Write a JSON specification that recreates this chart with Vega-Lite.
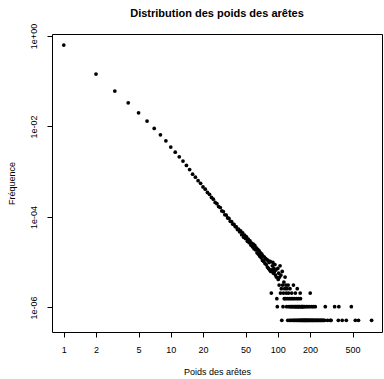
{
"$schema": "https://vega.github.io/schema/vega-lite/v6.json",
"width": 330, "height": 298,
"autosize": {"type": "none"},
"padding": {"left": 52, "top": 34, "right": 2, "bottom": 47},
"background": "white",
"title": {"text": "Distribution des poids des arêtes", "font": "Liberation Sans", "fontSize": 11, "fontWeight": "bold", "color": "black", "anchor": "middle", "frame": "group", "offset": 4},
"config": {"view": {"stroke": "black", "strokeWidth": 1}},
"data": {"values": [
{"w":1,"f":0.632},{"w":2,"f":0.144},{"w":3,"f":0.0607},{"w":4,"f":0.0334},{"w":5,"f":0.0201},{"w":6,"f":0.01316},{"w":7,"f":0.00907},{"w":8,"f":0.00655},{"w":9,"f":0.00483},{"w":10,"f":0.0035},{"w":11,"f":0.00271},{"w":12,"f":0.00214},{"w":13,"f":0.00172},{"w":14,"f":0.00138},{"w":15,"f":0.00112},{"w":16,"f":0.000885},{"w":17,"f":0.00076},
{"w":18,"f":6.35e-4},{"w":19,"f":5.55e-4},{"w":20,"f":4.62e-4},{"w":21,"f":4.12e-4},{"w":22,"f":3.49e-4},{"w":23,"f":3.16e-4},{"w":24,"f":2.70e-4},{"w":25,"f":2.47e-4},{"w":26,"f":2.10e-4},{"w":27,"f":1.97e-4},{"w":28,"f":1.70e-4},{"w":29,"f":1.62e-4},{"w":30,"f":1.36e-4},{"w":31,"f":1.32e-4},{"w":32,"f":1.12e-4},{"w":33,"f":1.10e-4},{"w":34,"f":9.5e-5},{"w":35,"f":9.3e-5},{"w":36,"f":8.0e-5},
{"w":37,"f":7.917e-5},{"w":38,"f":6.927e-5},{"w":39,"f":6.823e-5},{"w":40,"f":6.146e-5},{"w":41,"f":6.042e-5},{"w":42,"f":5.26e-5},{"w":43,"f":5.417e-5},{"w":44,"f":4.688e-5},{"w":45,"f":4.948e-5},{"w":46,"f":4.063e-5},{"w":47,"f":4.479e-5},{"w":48,"f":3.542e-5},{"w":49,"f":3.958e-5},{"w":50,"f":3.333e-5},{"w":51,"f":3.646e-5},{"w":52,"f":2.917e-5},{"w":53,"f":3.229e-5},{"w":54,"f":2.708e-5},{"w":55,"f":2.969e-5},{"w":56,"f":2.396e-5},{"w":57,"f":2.656e-5},{"w":58,"f":2.188e-5},{"w":59,"f":2.5e-5},
{"w":60,"f":1.979e-5},{"w":61,"f":2.344e-5},{"w":62,"f":1.875e-5},{"w":63,"f":2.083e-5},{"w":64,"f":1.615e-5},{"w":65,"f":1.927e-5},{"w":66,"f":1.51e-5},{"w":67,"f":1.771e-5},{"w":68,"f":1.354e-5},{"w":69,"f":1.615e-5},{"w":70,"f":1.25e-5},{"w":71,"f":1.51e-5},{"w":72,"f":1.094e-5},{"w":73,"f":1.354e-5},{"w":74,"f":1.042e-5},{"w":75,"f":1.302e-5},{"w":76,"f":9.375e-6},{"w":77,"f":1.198e-5},{"w":78,"f":8.854e-6},{"w":79,"f":1.146e-5},
{"w":80,"f":7.813e-6},{"w":81,"f":1.094e-5},{"w":82,"f":7.292e-6},{"w":83,"f":9.896e-6},{"w":84,"f":6.771e-6},{"w":85,"f":1.042e-5},{"w":86,"f":6.25e-6},{"w":87,"f":2.083e-6},{"w":88,"f":6.771e-6},{"w":89,"f":8.333e-6},{"w":90,"f":9.896e-6},{"w":91,"f":5.729e-6},{"w":92,"f":7.292e-6},{"w":93,"f":6.25e-6},{"w":94,"f":8.854e-6},{"w":95,"f":5.208e-6},{"w":96,"f":6.771e-6},{"w":97,"f":4.688e-6},{"w":98,"f":1.563e-6},{"w":99,"f":1.042e-6},
{"w":100,"f":7.292e-6},{"w":101,"f":4.167e-6},{"w":102,"f":5.729e-6},{"w":103,"f":3.125e-6},{"w":104,"f":4.688e-6},{"w":105,"f":8.333e-6},{"w":106,"f":2.083e-6},{"w":107,"f":5.208e-6},{"w":108,"f":2.604e-6},{"w":109,"f":5.21e-7},{"w":110,"f":6.25e-6},{"w":111,"f":3.125e-6},{"w":112,"f":1.042e-6},{"w":113,"f":2.083e-6},{"w":114,"f":3.646e-6},{"w":115,"f":1.563e-6},{"w":116,"f":2.604e-6},{"w":117,"f":4.688e-6},{"w":118,"f":1.563e-6},{"w":119,"f":3.125e-6},
{"w":120,"f":2.083e-6},{"w":121,"f":1.042e-6},{"w":122,"f":2.604e-6},{"w":123,"f":1.563e-6},{"w":124,"f":5.21e-7},{"w":125,"f":3.125e-6},{"w":126,"f":2.083e-6},{"w":127,"f":1.042e-6},{"w":128,"f":1.563e-6},{"w":129,"f":5.21e-7},{"w":130,"f":2.604e-6},{"w":131,"f":1.042e-6},{"w":132,"f":5.21e-7},{"w":133,"f":1.563e-6},{"w":134,"f":1.042e-6},{"w":135,"f":2.083e-6},{"w":136,"f":5.21e-7},{"w":137,"f":1.042e-6},{"w":138,"f":1.563e-6},{"w":139,"f":5.21e-7},
{"w":140,"f":3.125e-6},{"w":141,"f":1.042e-6},{"w":142,"f":5.21e-7},{"w":143,"f":1.563e-6},{"w":144,"f":1.042e-6},{"w":145,"f":5.21e-7},{"w":146,"f":2.083e-6},{"w":147,"f":1.042e-6},{"w":148,"f":5.21e-7},{"w":149,"f":1.042e-6},{"w":150,"f":1.563e-6},{"w":151,"f":5.21e-7},{"w":152,"f":2.604e-6},{"w":153,"f":1.042e-6},{"w":154,"f":5.21e-7},{"w":155,"f":1.042e-6},{"w":156,"f":1.563e-6},{"w":157,"f":5.21e-7},{"w":158,"f":1.042e-6},{"w":159,"f":5.21e-7},
{"w":160,"f":1.042e-6},{"w":161,"f":5.21e-7},{"w":162,"f":2.083e-6},{"w":163,"f":1.563e-6},{"w":164,"f":5.21e-7},{"w":165,"f":1.042e-6},{"w":166,"f":5.21e-7},{"w":167,"f":1.042e-6},{"w":168,"f":5.21e-7},{"w":169,"f":1.042e-6},{"w":170,"f":5.21e-7},{"w":171,"f":1.042e-6},{"w":172,"f":5.21e-7},{"w":174,"f":5.21e-7},{"w":175,"f":1.042e-6},{"w":176,"f":5.21e-7},{"w":178,"f":5.21e-7},{"w":179,"f":1.042e-6},{"w":180,"f":5.21e-7},{"w":182,"f":5.21e-7},
{"w":183,"f":5.21e-7},{"w":185,"f":1.042e-6},{"w":186,"f":5.21e-7},{"w":188,"f":5.21e-7},{"w":190,"f":5.21e-7},{"w":191,"f":1.042e-6},{"w":193,"f":5.21e-7},{"w":195,"f":5.21e-7},{"w":196,"f":5.21e-7},{"w":198,"f":1.042e-6},{"w":200,"f":5.21e-7},{"w":201,"f":2.083e-6},{"w":203,"f":5.21e-7},{"w":205,"f":5.21e-7},{"w":207,"f":1.042e-6},{"w":208,"f":5.21e-7},{"w":211,"f":5.21e-7},{"w":213,"f":5.21e-7},{"w":215,"f":1.042e-6},{"w":217,"f":5.21e-7},
{"w":220,"f":5.21e-7},{"w":222,"f":5.21e-7},{"w":224,"f":1.042e-6},{"w":227,"f":5.21e-7},{"w":230,"f":5.21e-7},{"w":233,"f":5.21e-7},{"w":236,"f":5.21e-7},{"w":240,"f":5.21e-7},{"w":244,"f":5.21e-7},{"w":248,"f":5.21e-7},{"w":252,"f":5.21e-7},{"w":256,"f":5.21e-7},{"w":260,"f":5.21e-7},{"w":264,"f":5.21e-7},{"w":268,"f":5.21e-7},{"w":275,"f":5.21e-7},{"w":278,"f":1.042e-6},{"w":292,"f":5.21e-7},{"w":310,"f":5.21e-7},{"w":315,"f":5.21e-7},
{"w":340,"f":1.042e-6},{"w":368,"f":5.21e-7},{"w":372,"f":1.042e-6},{"w":400,"f":5.21e-7},{"w":437,"f":5.21e-7},{"w":487,"f":1.042e-6},{"w":531,"f":5.21e-7},{"w":568,"f":5.21e-7},{"w":753,"f":5.21e-7}
]},
"mark": {"type": "point", "filled": true, "shape": "circle", "size": 14, "color": "black", "opacity": 1},
"encoding": {
"x": {"field": "w", "type": "quantitative", "scale": {"type": "log", "domain": [0.776, 942], "nice": false, "zero": false},
 "axis": {"values": [1,2,5,10,20,50,100,200,500], "format": "d", "grid": false, "domain": false, "ticks": true, "tickSize": 5, "tickColor": "black", "tickWidth": 1, "labelFont": "Liberation Sans", "labelFontSize": 9, "labelColor": "black", "labelPadding": 8, "labelFlush": false, "labelOverlap": false,
 "title": "Poids des arêtes", "titleFont": "Liberation Sans", "titleFontSize": 9, "titleFontWeight": "normal", "titleColor": "black", "titleX": 165, "titleY": 39, "titleBaseline": "middle", "titleAlign": "center"}},
"y": {"field": "f", "type": "quantitative", "scale": {"type": "log", "domain": [2.87e-7, 1.107], "nice": false, "zero": false},
 "axis": {"values": [1, 0.01, 0.0001, 0.000001], "labelExpr": "datum.value > 0.5 ? '1e+00' : datum.value > 0.005 ? '1e-02' : datum.value > 0.00005 ? '1e-04' : '1e-06'", "grid": false, "domain": false, "tickSize": 5, "tickColor": "black", "tickWidth": 1, "labelFont": "Liberation Sans", "labelFontSize": 9, "labelColor": "black", "labelAngle": -90, "labelAlign": "center", "labelBaseline": "bottom", "labelPadding": 9, "labelFlush": false, "labelOverlap": false,
 "title": "Fréquence", "titleFont": "Liberation Sans", "titleFontSize": 9, "titleFontWeight": "normal", "titleColor": "black", "titleAngle": -90, "titleX": -41, "titleY": 149, "titleBaseline": "middle", "titleAlign": "center"}}
}
}
